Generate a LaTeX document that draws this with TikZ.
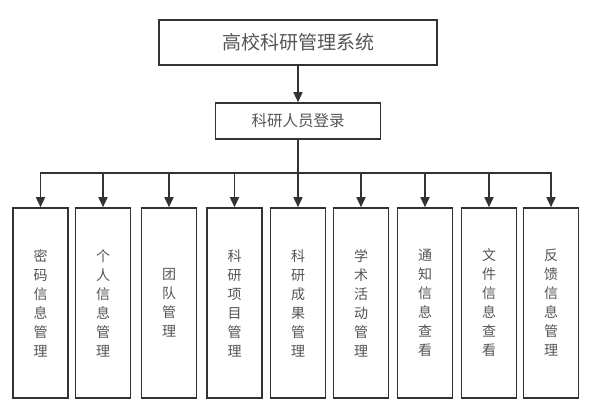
\documentclass[tikz,border=0pt]{standalone}
\usepackage{fontspec}
\newfontfamily\cjk{Noto Sans CJK SC}
\usepackage{xcolor}
\definecolor{boxline}{RGB}{51, 51, 51}
\definecolor{textgray}{RGB}{85, 85, 85}
\usepackage{tikz}
\usetikzlibrary{arrows.meta, positioning}

\begin{document}
\begin{tikzpicture}[x=1pt, y=-1pt, >={Triangle[length=10pt, width=9pt]},
    box/.style={draw=boxline, line width=1.6pt, fill=white, inner sep=0pt, text=textgray},
    modbox/.style={box, minimum width=55pt, minimum height=190pt, align=center,
        font=\cjk\fontsize{14}{19}\selectfont},
    link/.style={->, draw=boxline, line width=1.6pt}]
    \useasboundingbox (0,0) rectangle (607,400);

    % Top level: system and login
    \node[box, minimum width=278pt, minimum height=45pt, font=\cjk\fontsize{19}{22}\selectfont]
        (system) at (298, 42.5) {高校科研管理系统};
    \node[box, minimum width=165pt, minimum height=36pt, font=\cjk\fontsize{15.5}{18}\selectfont]
        (login) at (298, 121) {科研人员登录};
    \draw[link] (system) -- (login);

    % Bus line under the login box
    \coordinate (bus) at (298, 173);
    \draw[draw=boxline, line width=1.6pt] (login.south) -- (bus);

    % Module boxes (vertical text)
    \foreach \i/\x/\label in {
        1/40.5/{密\\码\\信\\息\\管\\理},
        2/103/{个\\人\\信\\息\\管\\理},
        3/169/{团\\队\\管\\理},
        4/234.5/{科\\研\\项\\目\\管\\理},
        5/298/{科\\研\\成\\果\\管\\理},
        6/361/{学\\术\\活\\动\\管\\理},
        7/425/{通\\知\\信\\息\\查\\看},
        8/489/{文\\件\\信\\息\\查\\看},
        9/551/{反\\馈\\信\\息\\管\\理}} {
        \node[modbox] (mod\i) at (\x, 303) {\label};
        \draw[link] (bus) -| (mod\i.north);
    }

\end{tikzpicture}
\end{document}
